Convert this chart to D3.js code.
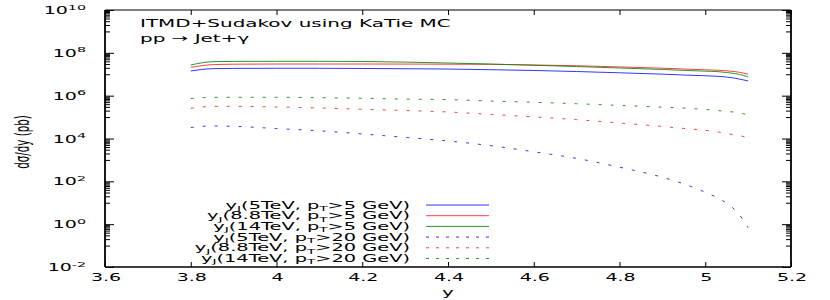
<!DOCTYPE html>
<html><head><meta charset="utf-8">
<script src="https://cdn.jsdelivr.net/npm/d3@7"></script>
<style>body{margin:0;background:#fff}svg{display:block}text{font-family:"DejaVu Sans",sans-serif;fill:#000}</style>
</head><body><svg id="c" width="830" height="300"></svg>
<script>
const xVals = [3.80,3.85,3.90,4.00,4.10,4.20,4.30,4.40,4.50,4.60,4.70,4.80,4.90,4.95,5.00,5.03,5.05,5.07,5.08,5.09,5.10];
const blue5  = [1.42e7,1.82e7,1.88e7,1.90e7,1.90e7,1.86e7,1.81e7,1.75e7,1.63e7,1.50e7,1.34e7,1.17e7,1.01e7,9.2e6,8.5e6,8.0e6,7.4e6,6.5e6,5.9e6,5.4e6,4.84e6];
const red5   = [2.11e7,2.79e7,2.95e7,3.01e7,3.01e7,3.01e7,2.99e7,2.95e7,2.91e7,2.72e7,2.49e7,2.20e7,1.92e7,1.76e7,1.61e7,1.53e7,1.45e7,1.32e7,1.23e7,1.12e7,9.95e6];
const green5 = [2.70e7,3.85e7,3.98e7,4.03e7,4.03e7,3.95e7,3.70e7,3.35e7,3.00e7,2.61e7,2.29e7,1.96e7,1.67e7,1.52e7,1.39e7,1.32e7,1.20e7,1.07e7,9.8e6,8.7e6,7.45e6];
const blue20  = [3.27e4,3.85e4,3.72e4,2.90e4,2.29e4,1.63e4,1.13e4,7.66e3,4.62e3,2.40e3,1.18e3,458,155,76,31,16.4,9.5,4.46,2.69,1.41,0.687];
const red20   = [2.58e5,3.16e5,3.19e5,2.96e5,2.66e5,2.31e5,2.03e5,1.73e5,1.33e5,1.02e5,7.6e4,5.3e4,3.65e4,2.95e4,2.40e4,2.0e4,1.74e4,1.45e4,1.35e4,1.23e4,1.14e4];
const green20 = [7.4e5,8.3e5,8.4e5,8.4e5,8.05e5,7.55e5,6.92e5,6.56e5,5.6e5,4.9e5,4.2e5,3.5e5,2.9e5,2.63e5,2.26e5,2.0e5,1.86e5,1.67e5,1.55e5,1.41e5,1.25e5];
const seriesNames = ["5TeV","8.8TeV","14TeV","5TeV","8.8TeV","14TeV"];
const seriesCuts = ["5","5","5","20","20","20"];
const xTicks = [3.6,3.8,4.0,4.2,4.4,4.6,4.8,5.0,5.2];
const xTickLabels = ["3.6","3.8","4","4.2","4.4","4.6","4.8","5","5.2"];
const yExps = [-2,0,2,4,6,8,10];
const titleLines = ["ITMD+Sudakov using KaTie MC","pp \u2192 Jet+\u03b3"];

const S = 1.9; // horizontal text stretch of the reference
const svg = d3.select("#c");
const L=105,R=791,T=10,B=267;
const x = d3.scaleLinear().domain([3.6,5.2]).range([L,R]);
const y = d3.scaleLog().domain([1e-2,1e10]).range([B,T]);

const colors = ["#1f1fff","#ff2a2a","#138a13","#1f1fff","#ff2a2a","#138a13"];
const dashed = [false,false,false,true,true,true];
const data = [blue5,red5,green5,blue20,red20,green20];

const yMajor = yExps.map(e=>Math.pow(10,e));
const yMinor = [];
[-1,1,3,5,7,9].forEach(e=>{for(let m=1;m<=9;m++) yMinor.push(m*Math.pow(10,e));});
function noDomain(g){g.select(".domain").remove();g.selectAll("text").remove();g.selectAll("line").attr("stroke","#000");}
svg.append("g").attr("transform",`translate(${L},0)`).call(d3.axisLeft(y).tickValues(yMajor).tickSize(-9)).call(noDomain);
svg.append("g").attr("transform",`translate(${L},0)`).call(d3.axisLeft(y).tickValues(yMinor).tickSize(-5)).call(noDomain);
svg.append("g").attr("transform",`translate(${R},0)`).call(d3.axisRight(y).tickValues(yMajor).tickSize(-9)).call(noDomain);
svg.append("g").attr("transform",`translate(${R},0)`).call(d3.axisRight(y).tickValues(yMinor).tickSize(-5)).call(noDomain);
svg.append("g").attr("transform",`translate(0,${B})`).call(d3.axisBottom(x).tickValues(xTicks).tickSize(-5)).call(noDomain);
svg.append("g").attr("transform",`translate(0,${T})`).call(d3.axisTop(x).tickValues(xTicks).tickSize(-5)).call(noDomain);
svg.selectAll(".tick line").attr("stroke-width",1);

// frame
svg.append("line").attr("x1",L).attr("x2",R).attr("y1",T).attr("y2",T).attr("stroke","#000").attr("stroke-width",1);
svg.append("line").attr("x1",L).attr("x2",R).attr("y1",B).attr("y2",B).attr("stroke","#000").attr("stroke-width",1.3);
svg.append("line").attr("x1",L).attr("x2",L).attr("y1",T).attr("y2",B).attr("stroke","#000").attr("stroke-width",1.8);
svg.append("line").attr("x1",R).attr("x2",R).attr("y1",T).attr("y2",B).attr("stroke","#000").attr("stroke-width",1.8);

function stext(px,py,anchor,size){
  return svg.append("g").attr("transform",`translate(${px},${py}) scale(${S},1)`)
    .append("text").attr("text-anchor",anchor).attr("font-size",size);
}
xTicks.forEach((v,i)=>{ stext(x(v)+1,281,"middle",10).text(xTickLabels[i]); });
yExps.forEach(e=>{
  const t = stext(86,y(Math.pow(10,e))+4,"end",10);
  t.append("tspan").text("10");
  t.append("tspan").attr("font-size",7.5).attr("dy",-4.5).text(String(e));
});
stext(448,296,"middle",10.5).text("y");
svg.append("g").attr("transform",`translate(29,142) scale(${S},1) rotate(-90)`)
  .append("text").attr("text-anchor","middle").attr("font-size",10.3).text("d\u03c3/dy (pb)");
titleLines.forEach((s,i)=>{ stext(140,27+i*15,"start",10.5).text(s); });

const line = d3.line().x((d,i)=>x(xVals[i])).y(d=>y(d)).curve(d3.curveMonotoneX);
data.forEach((arr,k)=>{
  svg.append("path").attr("d",line(arr)).attr("fill","none").attr("stroke",colors[k])
    .attr("stroke-width",1).attr("stroke-dasharray",dashed[k]?"3,9":null).attr("opacity",0.9);
});

const legY0 = 205, legDy = 10.7;
seriesNames.forEach((n,k)=>{
  const ly = legY0 + k*legDy;
  const t = stext(410, ly+3.6, "end", 10.2);
  t.append("tspan").text("y");
  t.append("tspan").attr("font-size",7.2).attr("dy",2.3).text("J");
  t.append("tspan").attr("dy",-2.3).text("("+n+", p");
  t.append("tspan").attr("font-size",7.2).attr("dy",2.3).text("T");
  t.append("tspan").attr("dy",-2.3).text(">"+seriesCuts[k]+" GeV)");
  svg.append("line").attr("x1",426).attr("x2",489).attr("y1",ly).attr("y2",ly)
    .attr("stroke",colors[k]).attr("stroke-width",1).attr("stroke-dasharray",dashed[k]?"3,7":null).attr("opacity",0.9);
});
</script></body></html>
